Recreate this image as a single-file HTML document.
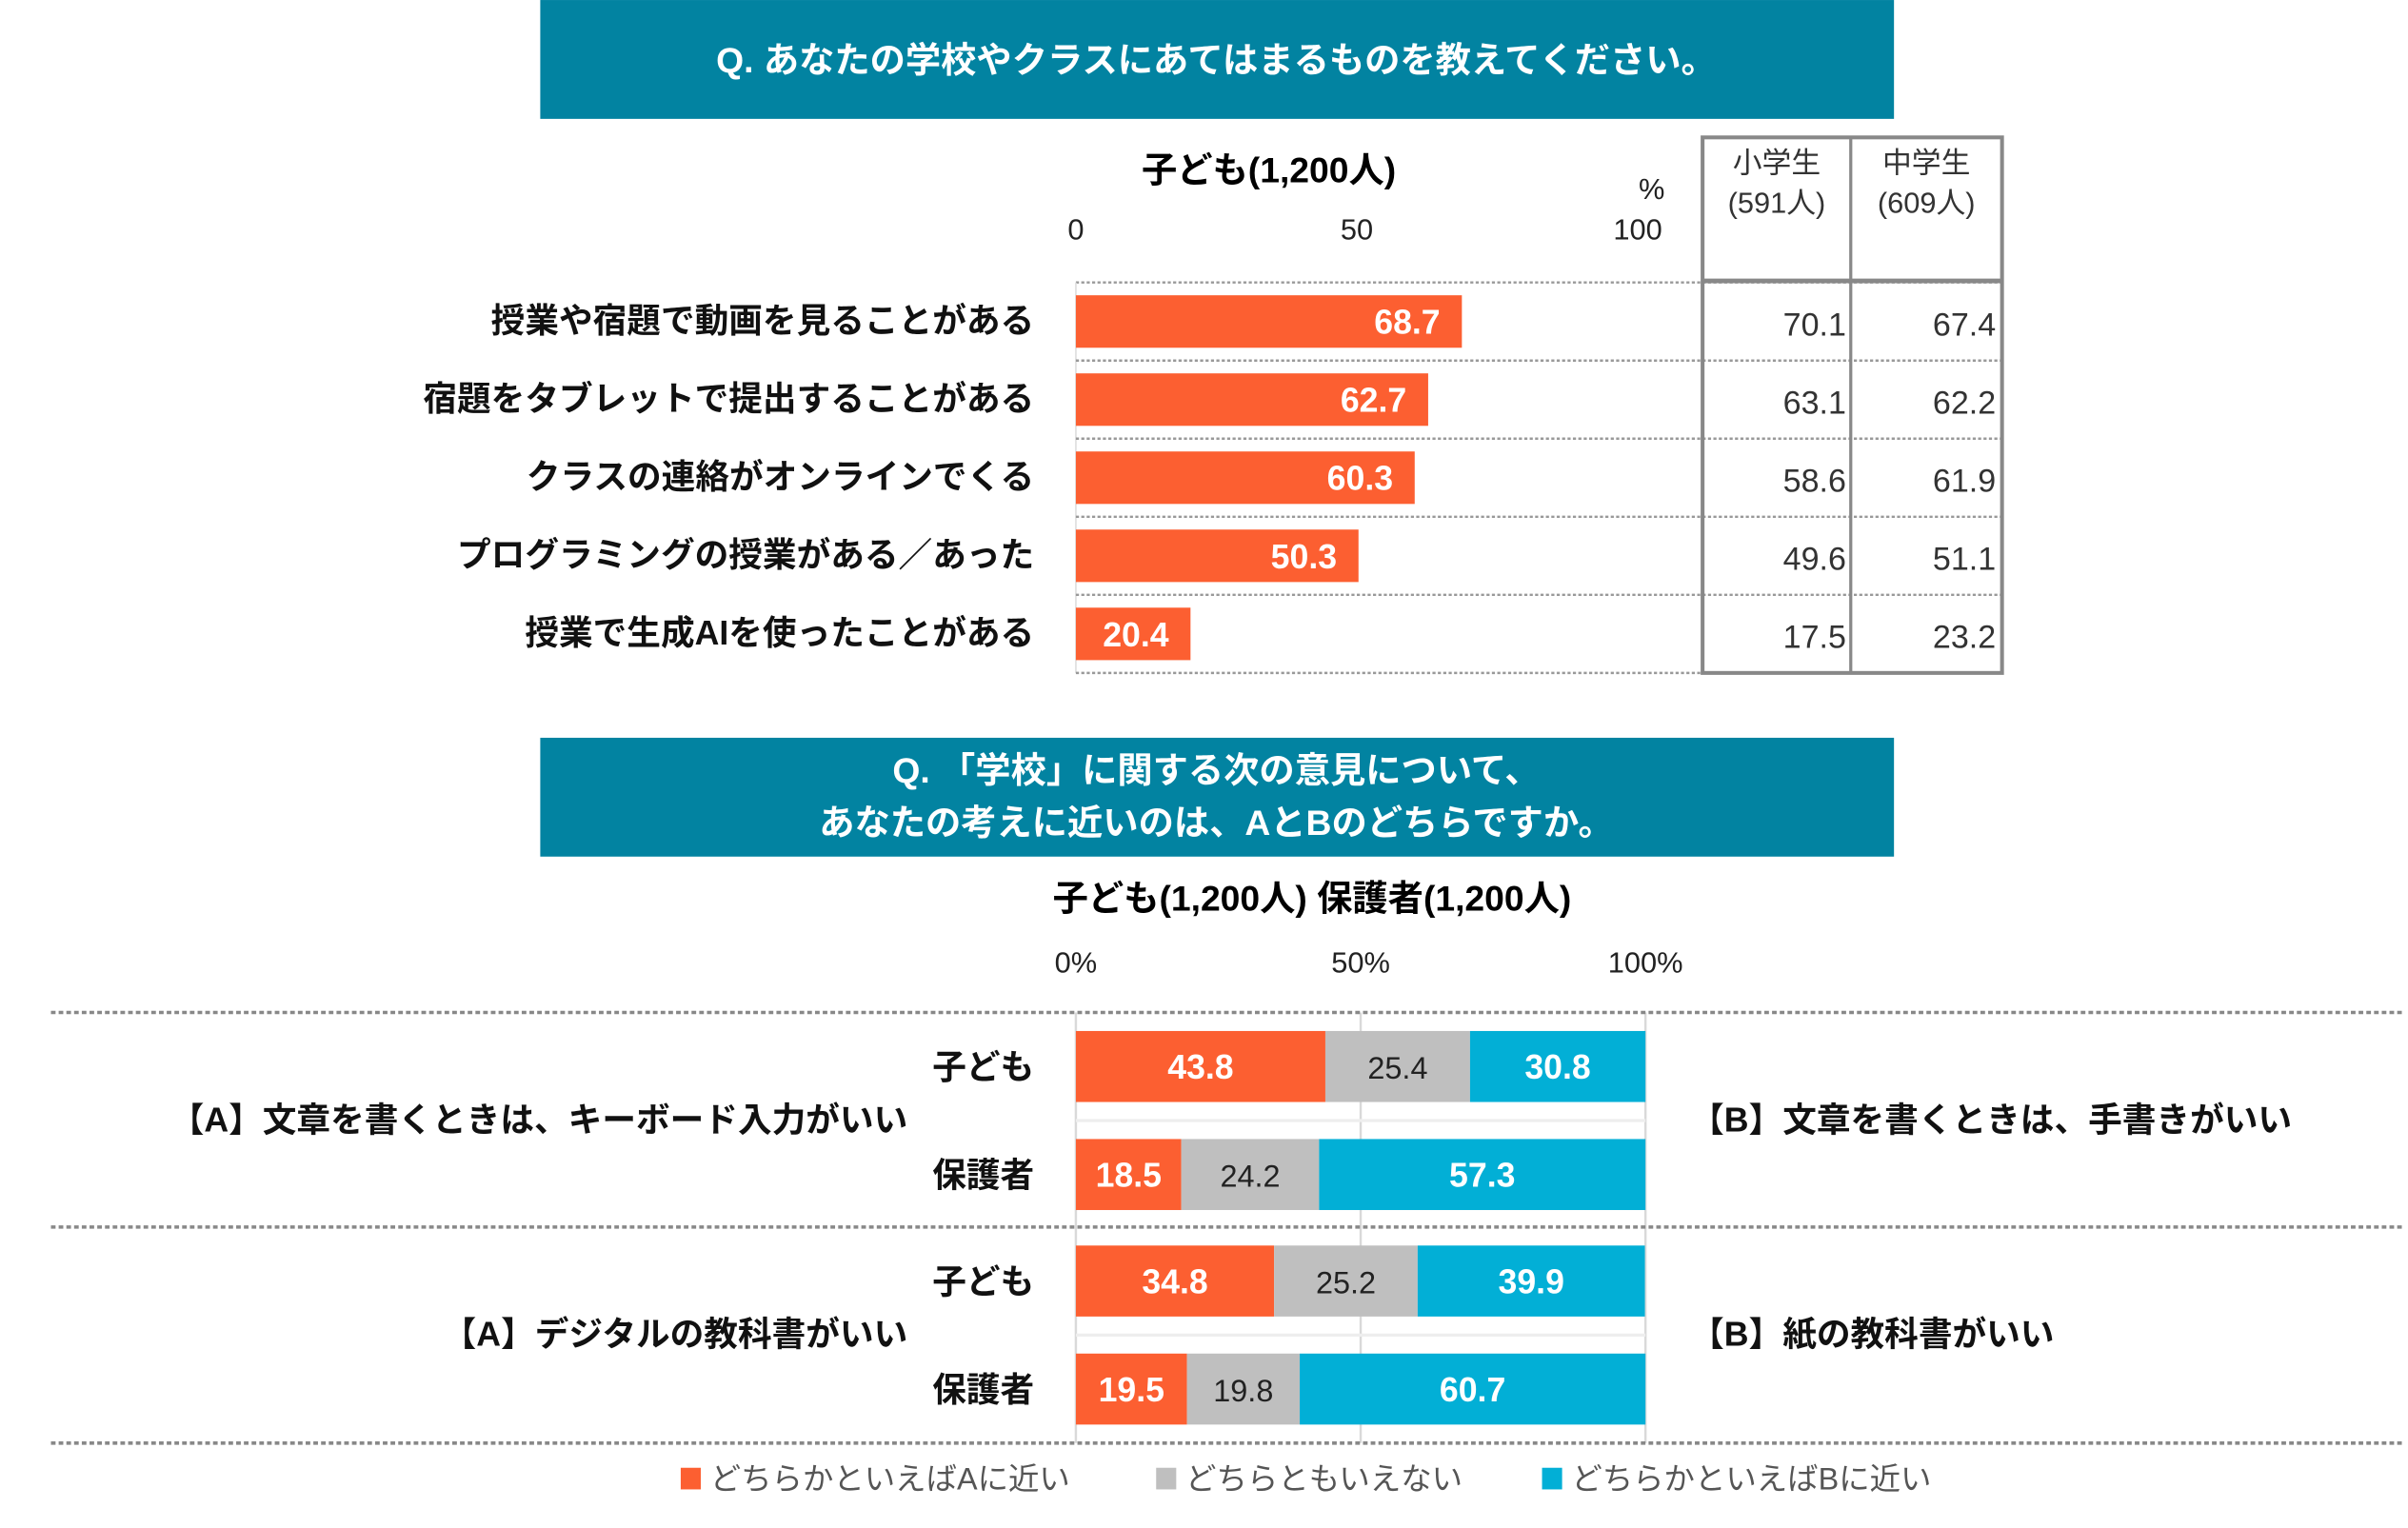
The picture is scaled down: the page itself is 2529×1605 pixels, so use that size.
<!DOCTYPE html>
<html><head><meta charset="utf-8">
<style>
html,body{margin:0;padding:0;background:#fff;}
svg{display:block;}
text{font-family:"Liberation Sans","Noto Sans CJK JP",sans-serif;}
.b{font-weight:bold;}
</style></head>
<body>
<svg id="chart" width="2529" height="1605" viewBox="0 0 1560 990" xmlns="http://www.w3.org/2000/svg">
  <!-- Top banner -->
  <rect x="350" y="0" width="877" height="77" fill="#0283a1"/>
  <text x="788" y="47" text-anchor="middle" fill="#fff" class="b" font-size="23">Q. あなたの学校やクラスにあてはまるものを教えてください。</text>
  <text x="822" y="118" text-anchor="middle" class="b" font-size="23">子ども(1,200人)</text>
  <text x="1070" y="129" text-anchor="middle" font-size="19" fill="#222">%</text>
  <g id="axis1"></g>
  <g id="rows1"></g>
  <!-- table -->
  <g id="table">
    <rect x="1103" y="89" width="194" height="347" fill="none" stroke="#888" stroke-width="2.5"/>
    <line x1="1199" y1="89" x2="1199" y2="436" stroke="#888" stroke-width="2"/>
    <line x1="1103" y1="182" x2="1297" y2="182" stroke="#888" stroke-width="3"/>
    <text x="1151" y="112" text-anchor="middle" font-size="19" fill="#333">小学生</text>
    <text x="1151" y="138" text-anchor="middle" font-size="19" fill="#333">(591人)</text>
    <text x="1248" y="112" text-anchor="middle" font-size="19" fill="#333">中学生</text>
    <text x="1248" y="138" text-anchor="middle" font-size="19" fill="#333">(609人)</text>
  </g>

  <!-- Bottom banner -->
  <rect x="350" y="478" width="877" height="77" fill="#0283a1"/>
  <text x="788" y="507" text-anchor="middle" fill="#fff" class="b" font-size="23">Q. 「学校」に関する次の意見について、</text>
  <text x="788" y="541" text-anchor="middle" fill="#fff" class="b" font-size="23">あなたの考えに近いのは、AとBのどちらですか。</text>
  <text x="850" y="590" text-anchor="middle" class="b" font-size="23">子ども(1,200人) 保護者(1,200人)</text>
  <g id="axis2"></g>
  <g id="rows2"></g>
  <g id="legend"></g>
</svg>
<script>
const NS = "http://www.w3.org/2000/svg";
// Chart 1 data
const items1 = ["授業や宿題で動画を見ることがある","宿題をタブレットで提出することがある","クラスの連絡がオンラインでくる","プログラミングの授業がある／あった","授業で生成AIを使ったことがある"];
const total1 = [68.7, 62.7, 60.3, 50.3, 20.4];
const elem1 = [70.1, 63.1, 58.6, 49.6, 17.5];
const junior1 = [67.4, 62.2, 61.9, 51.1, 23.2];
const ticks1 = [0, 50, 100];
// Chart 2 data
const topicsA = ["【A】文章を書くときは、キーボード入力がいい","【A】デジタルの教科書がいい"];
const topicsB = ["【B】文章を書くときは、手書きがいい","【B】紙の教科書がいい"];
const groups2 = ["子ども","保護者"];
const nearA = [43.8, 18.5, 34.8, 19.5];
const neither = [25.4, 24.2, 25.2, 19.8];
const nearB = [30.8, 57.3, 39.9, 60.7];
const ticks2 = ["0%","50%","100%"];
const tickVals2 = [0, 50, 100];
const legendLabels = ["どちらかといえばAに近い","どちらともいえない","どちらかといえばBに近い"];

const ORANGE="#fc5f31", GRAY="#bfbfbf", BLUE="#02afd6";
function mk(tag, attrs, parent, txt){
  const e=document.createElementNS(NS,tag);
  for(const k in attrs) e.setAttribute(k, attrs[k]);
  if(txt!==undefined) e.textContent=txt;
  parent.appendChild(e); return e;
}
// Chart 1
const x1 = v => 697 + v*3.64;
const ax1=document.getElementById('axis1');
ticks1.forEach(t=>{
  const e=mk('text',{x:x1(t),y:155,'text-anchor':'middle','font-size':19,fill:'#222'},ax1,String(t));
  
  
});
const r1=document.getElementById('rows1');
const tbl=document.getElementById('table');
const rowTop=183, rowH=50.6;
mk('line',{x1:697,y1:rowTop,x2:1297,y2:rowTop,stroke:'#999','stroke-width':1.5,'stroke-dasharray':'2 1.5'},r1);
mk('line',{x1:697,y1:rowTop,x2:697,y2:436,stroke:'#ddd','stroke-width':1},r1);
items1.forEach((lab,i)=>{
  const y=rowTop+i*rowH, cy=y+rowH/2;
  const ln=mk('line',{x1:697,y1:y+rowH,x2:1297,y2:y+rowH,stroke:'#999','stroke-width':1.5,'stroke-dasharray':'2 1.5'},r1);
  
  
  const t=mk('text',{x:670,y:cy+7,'text-anchor':'end','font-size':22,'font-weight':'bold',fill:'#111'},r1,lab);
  
  
  const b=mk('rect',{x:x1(0),y:cy-17,width:x1(total1[i])-x1(0),height:34,fill:ORANGE},r1);
  
  
  const v=mk('text',{x:x1(total1[i])-14,y:cy+8,'text-anchor':'end','font-size':22,'font-weight':'bold',fill:'#fff'},r1,total1[i].toFixed(1));
  
  
  const e1=mk('text',{x:1196,y:cy+9,'text-anchor':'end','font-size':21,fill:'#333'},tbl,elem1[i].toFixed(1));
  
  
  const j1=mk('text',{x:1293,y:cy+9,'text-anchor':'end','font-size':21,fill:'#333'},tbl,junior1[i].toFixed(1));
  
  
});
// Chart 2
const x2 = v => 697 + v*3.69;
const ax2=document.getElementById('axis2');
tickVals2.forEach((t,i)=>{
  const e=mk('text',{x:x2(t),y:630,'text-anchor':'middle','font-size':19,fill:'#222'},ax2,ticks2[i]);
  
  
  const g=mk('line',{x1:x2(t),y1:656,x2:x2(t),y2:935,stroke:'#d9d9d9','stroke-width':1.5},ax2);
  
  
});
const r2=document.getElementById('rows2');
const sepY=[656,795,935];
sepY.forEach(y=>{
  const l=mk('line',{x1:33,y1:y,x2:1557,y2:y,stroke:'#888','stroke-width':2.2,'stroke-dasharray':'3 2'},r2);
  
  
});
topicsA.forEach((ta,ti)=>{
  const top=sepY[ti];
  const mid=top+69;
  mk('line',{x1:697,y1:top+70,x2:1066,y2:top+70,stroke:'#eee','stroke-width':2},r2);
  const a=mk('text',{x:588,y:mid+8,'text-anchor':'end','font-size':22,'font-weight':'bold',fill:'#111'},r2,ta);
  
  
  const bb=mk('text',{x:1095,y:mid+8,'text-anchor':'start','font-size':22,'font-weight':'bold',fill:'#111'},r2,topicsB[ti]);
  
  
  groups2.forEach((g,gi)=>{
    const k=ti*2+gi;
    const y=top+12+gi*70, cy=y+23;
    const gl=mk('text',{x:670,y:cy+8-(gi==0?0:0),'text-anchor':'end','font-size':22,'font-weight':'bold',fill:'#111'},r2,g);
    
    
    const segs=[[nearA[k],ORANGE,'#fff','bold','near-a'],[neither[k],GRAY,'#222','normal','neither'],[nearB[k],BLUE,'#fff','bold','near-b']];
    let acc=0;
    segs.forEach(s=>{
      const r=mk('rect',{x:x2(acc),y:y,width:x2(acc+s[0])-x2(acc),height:46,fill:s[1]},r2);
      
      
      const tx=mk('text',{x:(x2(acc)+x2(acc+s[0]))/2,y:cy+8,'text-anchor':'middle','font-size':s[3]==='bold'?22:20,'font-weight':s[3],fill:s[2]},r2,s[0].toFixed(1));
      
      
      acc+=s[0];
    });
  });
});
// Legend
const lg=document.getElementById('legend');
const lgX=[441,749,999], lgC=[ORANGE,GRAY,BLUE];
legendLabels.forEach((l,i)=>{
  const sq=mk('rect',{x:lgX[i],y:951,width:13,height:14,fill:lgC[i]},lg);
  
  
  const t=mk('text',{x:lgX[i]+19,y:965,'font-size':20,fill:'#555'},lg,l);
  
  
});
</script>
</body></html>
